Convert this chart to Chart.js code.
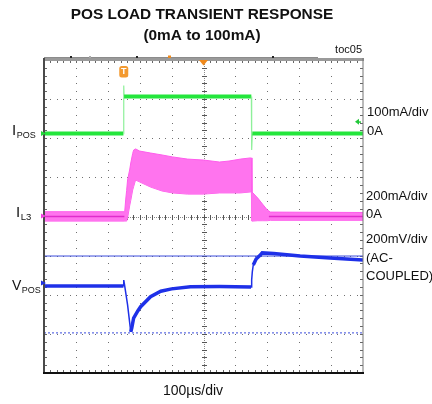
<!DOCTYPE html>
<html>
<head>
<meta charset="utf-8">
<script src="https://cdn.jsdelivr.net/npm/chart.js@4.4.0/dist/chart.umd.min.js"></script>
<style>
html,body{margin:0;padding:0;background:#ffffff;}
#wrap{width:432px;height:404px;position:relative;}
canvas{display:block;}
</style>
</head>
<body>
<div id="wrap"><canvas id="c" width="432" height="404"></canvas></div>
<script>
// ---------- text ----------
const titleLines = ['POS LOAD TRANSIENT RESPONSE', '(0mA to 100mA)'];
const tocLabel = 'toc05';
const timeDivLabel = '100µs/div';
const rightLabels = ['100mA/div', '0A', '200mA/div', '0A', '200mV/div', '(AC-', 'COUPLED)'];

// ---------- time axis (µs), 100µs/div, 10 divisions ----------
const timeRange = [0, 1000];
const timeStep = 100;

// ---------- IPOS (mA), 100mA/div ----------
const tIpos = [0, 249, 250, 251, 650, 651, 653, 1000];
const iPos  = [0, 0, 123, 95, 95, -42, 0, 0];

// ---------- IL3 (mA), 200mA/div, ripple envelope ----------
const tIl3     = [0, 253, 256, 259, 262, 269, 272, 278, 281, 287, 300, 334, 370, 403, 450, 500, 550, 580, 616, 647, 650, 652, 670, 685, 700, 710, 1000];
const iL3Upper = [22, 22, 82, 130, 184, 240, 271, 320, 337, 343, 332, 322, 312, 302, 291, 286, 276, 281, 291, 297, 297, 123, 92, 61, 31, 20, 18];
const iL3Lower = [-26, -26, -26, -26, -10, 56, 80, 133, 150, 184, 174, 148, 128, 118, 112, 112, 118, 118, 118, 123, 123, -26, -24, -24, -24, -22, -22];
// IL3 zero-current core (idle portions)
const tIl3Core = [0, 252, 253, 705, 1000];
const iL3Core  = [-2, -2, null, -2, -2];

// ---------- VPOS (mV, AC-coupled), 200mV/div ----------
const tVpos = [0, 249, 250, 252, 262, 272, 275, 281, 294, 303, 334, 366, 400, 459, 550, 649, 651, 653, 656, 665, 678, 684, 720, 803, 897, 1000];
const vPos  = [0, 0, 30, 10, -97, -235, -215, -164, -128, -106, -55, -27, -15, -4, -3, -5, 31, 72, 107, 138, 158, 169, 166, 153, 143, 133];
const vCursorSolid = 153;
const vCursorDash = -240;

// ---------- axis ranges (8 vertical divisions) ----------
const iPosRange = [-612, 188];
const iL3Range = [-802.5, 797.5];
const vPosRange = [-445, 1155];

const pts = (ts, vs) => ts.map((t, i) => ({x: t, y: vs[i]}));

const FONT = "'Liberation Sans', Arial, Helvetica, sans-serif";

function steepSegment(ctx, thin, thick) {
  const dx = Math.abs(ctx.p1.x - ctx.p0.x);
  const dy = Math.abs(ctx.p1.y - ctx.p0.y);
  return dy > 6 * Math.max(dx, 0.5) ? thin : thick;
}

const scopePlugin = {
  id: 'scope',
  beforeDatasetsDraw(chart) {
    const {ctx, chartArea: a, scales} = chart;
    const x = scales.x, yd = scales.yDiv;
    ctx.save();
    // dotted grid
    ctx.fillStyle = '#707070';
    for (let i = 1; i < 10; i++) {
      if (i === 5) continue;
      const px = Math.round(x.getPixelForValue(i * timeStep));
      for (let k = 1; k < 40; k++) {
        const py = Math.round(yd.getPixelForValue(k / 5));
        ctx.fillRect(px, py, 1, 1);
      }
    }
    for (let j = 1; j < 8; j++) {
      if (j === 4) continue;
      const py = Math.round(yd.getPixelForValue(j));
      for (let k = 1; k < 50; k++) {
        const px = Math.round(x.getPixelForValue(k * timeStep / 5));
        ctx.fillRect(px, py, 1, 1);
      }
    }
    // center cross lines
    const cx = Math.round(x.getPixelForValue(5 * timeStep));
    const cy = Math.round(yd.getPixelForValue(4));
    ctx.fillStyle = '#8a8a8a';
    for (let py = a.top; py < a.bottom; py += 2) ctx.fillRect(cx, py, 1, 1);
    for (let px = a.left; px < a.right; px += 2) ctx.fillRect(px, cy, 1, 1);
    ctx.fillStyle = '#555';
    for (let k = 1; k < 40; k++) {
      const py = Math.round(yd.getPixelForValue(k / 5));
      ctx.fillRect(cx - 2, py, 5, 1);
    }
    for (let k = 1; k < 50; k++) {
      const px = Math.round(x.getPixelForValue(k * timeStep / 5));
      ctx.fillRect(px, cy - 2, 1, 5);
    }
    // border ticks
    ctx.fillStyle = '#666';
    for (let k = 1; k < 50; k++) {
      const px = Math.round(x.getPixelForValue(k * timeStep / 5));
      ctx.fillRect(px, a.top, 1, 3);
      ctx.fillRect(px, a.bottom - 3, 1, 3);
    }
    for (let k = 1; k < 40; k++) {
      const py = Math.round(yd.getPixelForValue(k / 5));
      ctx.fillRect(a.left, py, 3, 1);
      ctx.fillRect(a.right - 3, py, 3, 1);
    }
    ctx.restore();
  },
  afterDatasetsDraw(chart) {
    const {ctx, chartArea: a, scales} = chart;
    const x = scales.x;
    ctx.save();
    // frame
    ctx.strokeStyle = '#8c8c8c';
    ctx.lineWidth = 1;
    ctx.beginPath(); ctx.moveTo(a.left, 57.5); ctx.lineTo(318, 57.5); ctx.stroke();
    ctx.fillStyle = '#9a9a9a';
    ctx.fillRect(a.left, a.top - 2, a.right - a.left + 1, 3);
    ctx.fillStyle = '#4a4a4a';
    ctx.fillRect(a.left - 1, a.top - 2, 2, a.bottom - a.top + 3);
    ctx.fillStyle = '#777';
    ctx.fillRect(a.right - 0.5, a.top - 2, 1, a.bottom - a.top + 3);
    ctx.fillStyle = '#111';
    ctx.fillRect(a.left - 1, a.bottom - 1, a.right - a.left + 2, 2);
    // record bar marks
    ctx.fillStyle = '#222';
    [71, 137, 273].forEach(px => ctx.fillRect(px - 1, 56, 2, 2));
    ctx.fillStyle = '#aaa';
    ctx.fillRect(89, 56, 2, 2);
    ctx.fillStyle = '#f08a1c';
    ctx.fillRect(168, 55.5, 3, 2.5);
    // trigger position triangle (center)
    const tc = x.getPixelForValue(5 * timeStep);
    ctx.beginPath();
    ctx.moveTo(tc - 4.5, a.top); ctx.lineTo(tc + 4.5, a.top); ctx.lineTo(tc, a.top + 5.5);
    ctx.closePath(); ctx.fill();
    // trigger "T" marker at load step
    const tt = x.getPixelForValue(tIpos[2]);
    ctx.fillStyle = '#f39a30';
    ctx.beginPath();
    if (ctx.roundRect) ctx.roundRect(tt - 4.5, 66, 9, 11.5, 2.5); else ctx.rect(tt - 4.5, 66, 9, 11.5);
    ctx.fill();
    ctx.fillStyle = '#ffffff';
    ctx.font = 'bold 9px ' + FONT;
    ctx.textAlign = 'center'; ctx.textBaseline = 'middle';
    ctx.fillText('T', tt, 72);
    // channel markers at left edge
    const yG = scales.yG, yM = scales.yM, yB = scales.yB;
    const marker = (py, color) => {
      ctx.fillStyle = color;
      ctx.beginPath();
      ctx.moveTo(a.left - 3, py - 2.5); ctx.lineTo(a.left + 2, py); ctx.lineTo(a.left - 3, py + 2.5);
      ctx.closePath(); ctx.fill();
    };
    marker(yG.getPixelForValue(0), '#22d83a');
    marker(yM.getPixelForValue(0), '#f040e0');
    marker(yB.getPixelForValue(15), '#2233e0');
    // green reference arrow at right
    ctx.fillStyle = '#22c83a';
    const gy = yG.getPixelForValue(30);
    ctx.beginPath();
    ctx.moveTo(a.right - 8, gy); ctx.lineTo(a.right - 4, gy - 3); ctx.lineTo(a.right - 4, gy + 3);
    ctx.closePath(); ctx.fill();
    ctx.fillRect(a.right - 5, gy - 0.5, 3, 1.5);
    ctx.restore();
  },
  afterDraw(chart) {
    const {ctx} = chart;
    ctx.save();
    ctx.fillStyle = '#111';
    ctx.textBaseline = 'middle';
    // title
    ctx.textAlign = 'center';
    ctx.font = 'bold 15.4px ' + FONT;
    ctx.fillText(titleLines[0], 202, 15);
    ctx.fillText(titleLines[1], 202, 35.5);
    // toc
    ctx.textAlign = 'right';
    ctx.font = '11px ' + FONT;
    ctx.fillText(tocLabel, 362, 50);
    // right labels
    ctx.textAlign = 'left';
    ctx.font = '13px ' + FONT;
    const ry = [112, 131, 196, 214, 239, 258.5, 276.5];
    const rx = [367, 367, 366, 366, 366, 366, 366];
    rightLabels.forEach((s, i) => ctx.fillText(s, rx[i], ry[i]));
    // bottom label
    ctx.textAlign = 'center';
    ctx.font = '14px ' + FONT;
    ctx.fillText(timeDivLabel, 193, 391);
    // left labels with subscripts
    ctx.textAlign = 'left';
    const sub = (main, s, x0, yc, mainSize, subSize) => {
      ctx.font = mainSize + 'px ' + FONT;
      ctx.fillText(main, x0, yc);
      const w = ctx.measureText(main).width;
      ctx.font = subSize + 'px ' + FONT;
      ctx.fillText(s, x0 + w + 0.5, yc + 4.5);
    };
    sub('I', 'POS', 12, 131, 15, 9);
    sub('I', 'L3', 16, 213, 15, 9.5);
    sub('V', 'POS', 12, 286, 14, 9);
    ctx.restore();
  }
};

const ctx = document.getElementById('c').getContext('2d');
new Chart(ctx, {
  type: 'line',
  data: {
    datasets: [
      {
        label: 'IPOS',
        data: pts(tIpos, iPos),
        yAxisID: 'yG',
        borderColor: '#24e63c',
        borderWidth: 4,
        pointRadius: 0,
        fill: false,
        order: 1,
        segment: {
          borderWidth: c => steepSegment(c, 1.2, 4),
          borderColor: c => steepSegment(c, '#8ef09a', '#24e63c')
        }
      },
      {
        label: 'VPOS',
        data: pts(tVpos, vPos),
        yAxisID: 'yB',
        borderColor: '#1e30e8',
        borderWidth: 3.5,
        pointRadius: 0,
        fill: false,
        order: 2,
        segment: {
          borderWidth: c => steepSegment(c, 1.5, 3.5)
        }
      },
      {
        label: 'VPOS cursor',
        data: pts(timeRange, [vCursorSolid, vCursorSolid]),
        yAxisID: 'yB',
        borderColor: '#3a4cdc',
        borderWidth: 1,
        pointRadius: 0,
        fill: false,
        order: 3
      },
      {
        label: 'VPOS cursor 2',
        data: pts(timeRange, [vCursorDash, vCursorDash]),
        yAxisID: 'yB',
        borderColor: '#3a4cdc',
        borderWidth: 1,
        borderDash: [2, 2],
        pointRadius: 0,
        fill: false,
        order: 3
      },
      {
        label: 'IL3 core',
        data: pts(tIl3Core, iL3Core),
        yAxisID: 'yM',
        borderColor: '#e02ccc',
        borderWidth: 1.5,
        pointRadius: 0,
        fill: false,
        spanGaps: false,
        order: 3
      },
      {
        label: 'IL3 upper',
        data: pts(tIl3, iL3Upper),
        yAxisID: 'yM',
        borderColor: '#ff5cec',
        borderWidth: 1,
        backgroundColor: '#ff74ee',
        pointRadius: 0,
        fill: '+1',
        order: 4
      },
      {
        label: 'IL3 lower',
        data: pts(tIl3, iL3Lower),
        yAxisID: 'yM',
        borderColor: '#ff5cec',
        borderWidth: 1,
        pointRadius: 0,
        fill: false,
        order: 4
      }
    ]
  },
  options: {
    responsive: false,
    animation: false,
    devicePixelRatio: 1,
    layout: {padding: {left: 44, right: 69, top: 60, bottom: 31}},
    plugins: {legend: {display: false}, tooltip: {enabled: false}, title: {display: false}},
    elements: {line: {tension: 0}},
    scales: {
      x: {type: 'linear', min: timeRange[0], max: timeRange[1], display: false},
      yDiv: {type: 'linear', min: 0, max: 8, reverse: true, display: false},
      yG: {type: 'linear', min: iPosRange[0], max: iPosRange[1], display: false},
      yM: {type: 'linear', min: iL3Range[0], max: iL3Range[1], display: false},
      yB: {type: 'linear', min: vPosRange[0], max: vPosRange[1], display: false}
    }
  },
  plugins: [scopePlugin]
});
</script>
</body>
</html>
